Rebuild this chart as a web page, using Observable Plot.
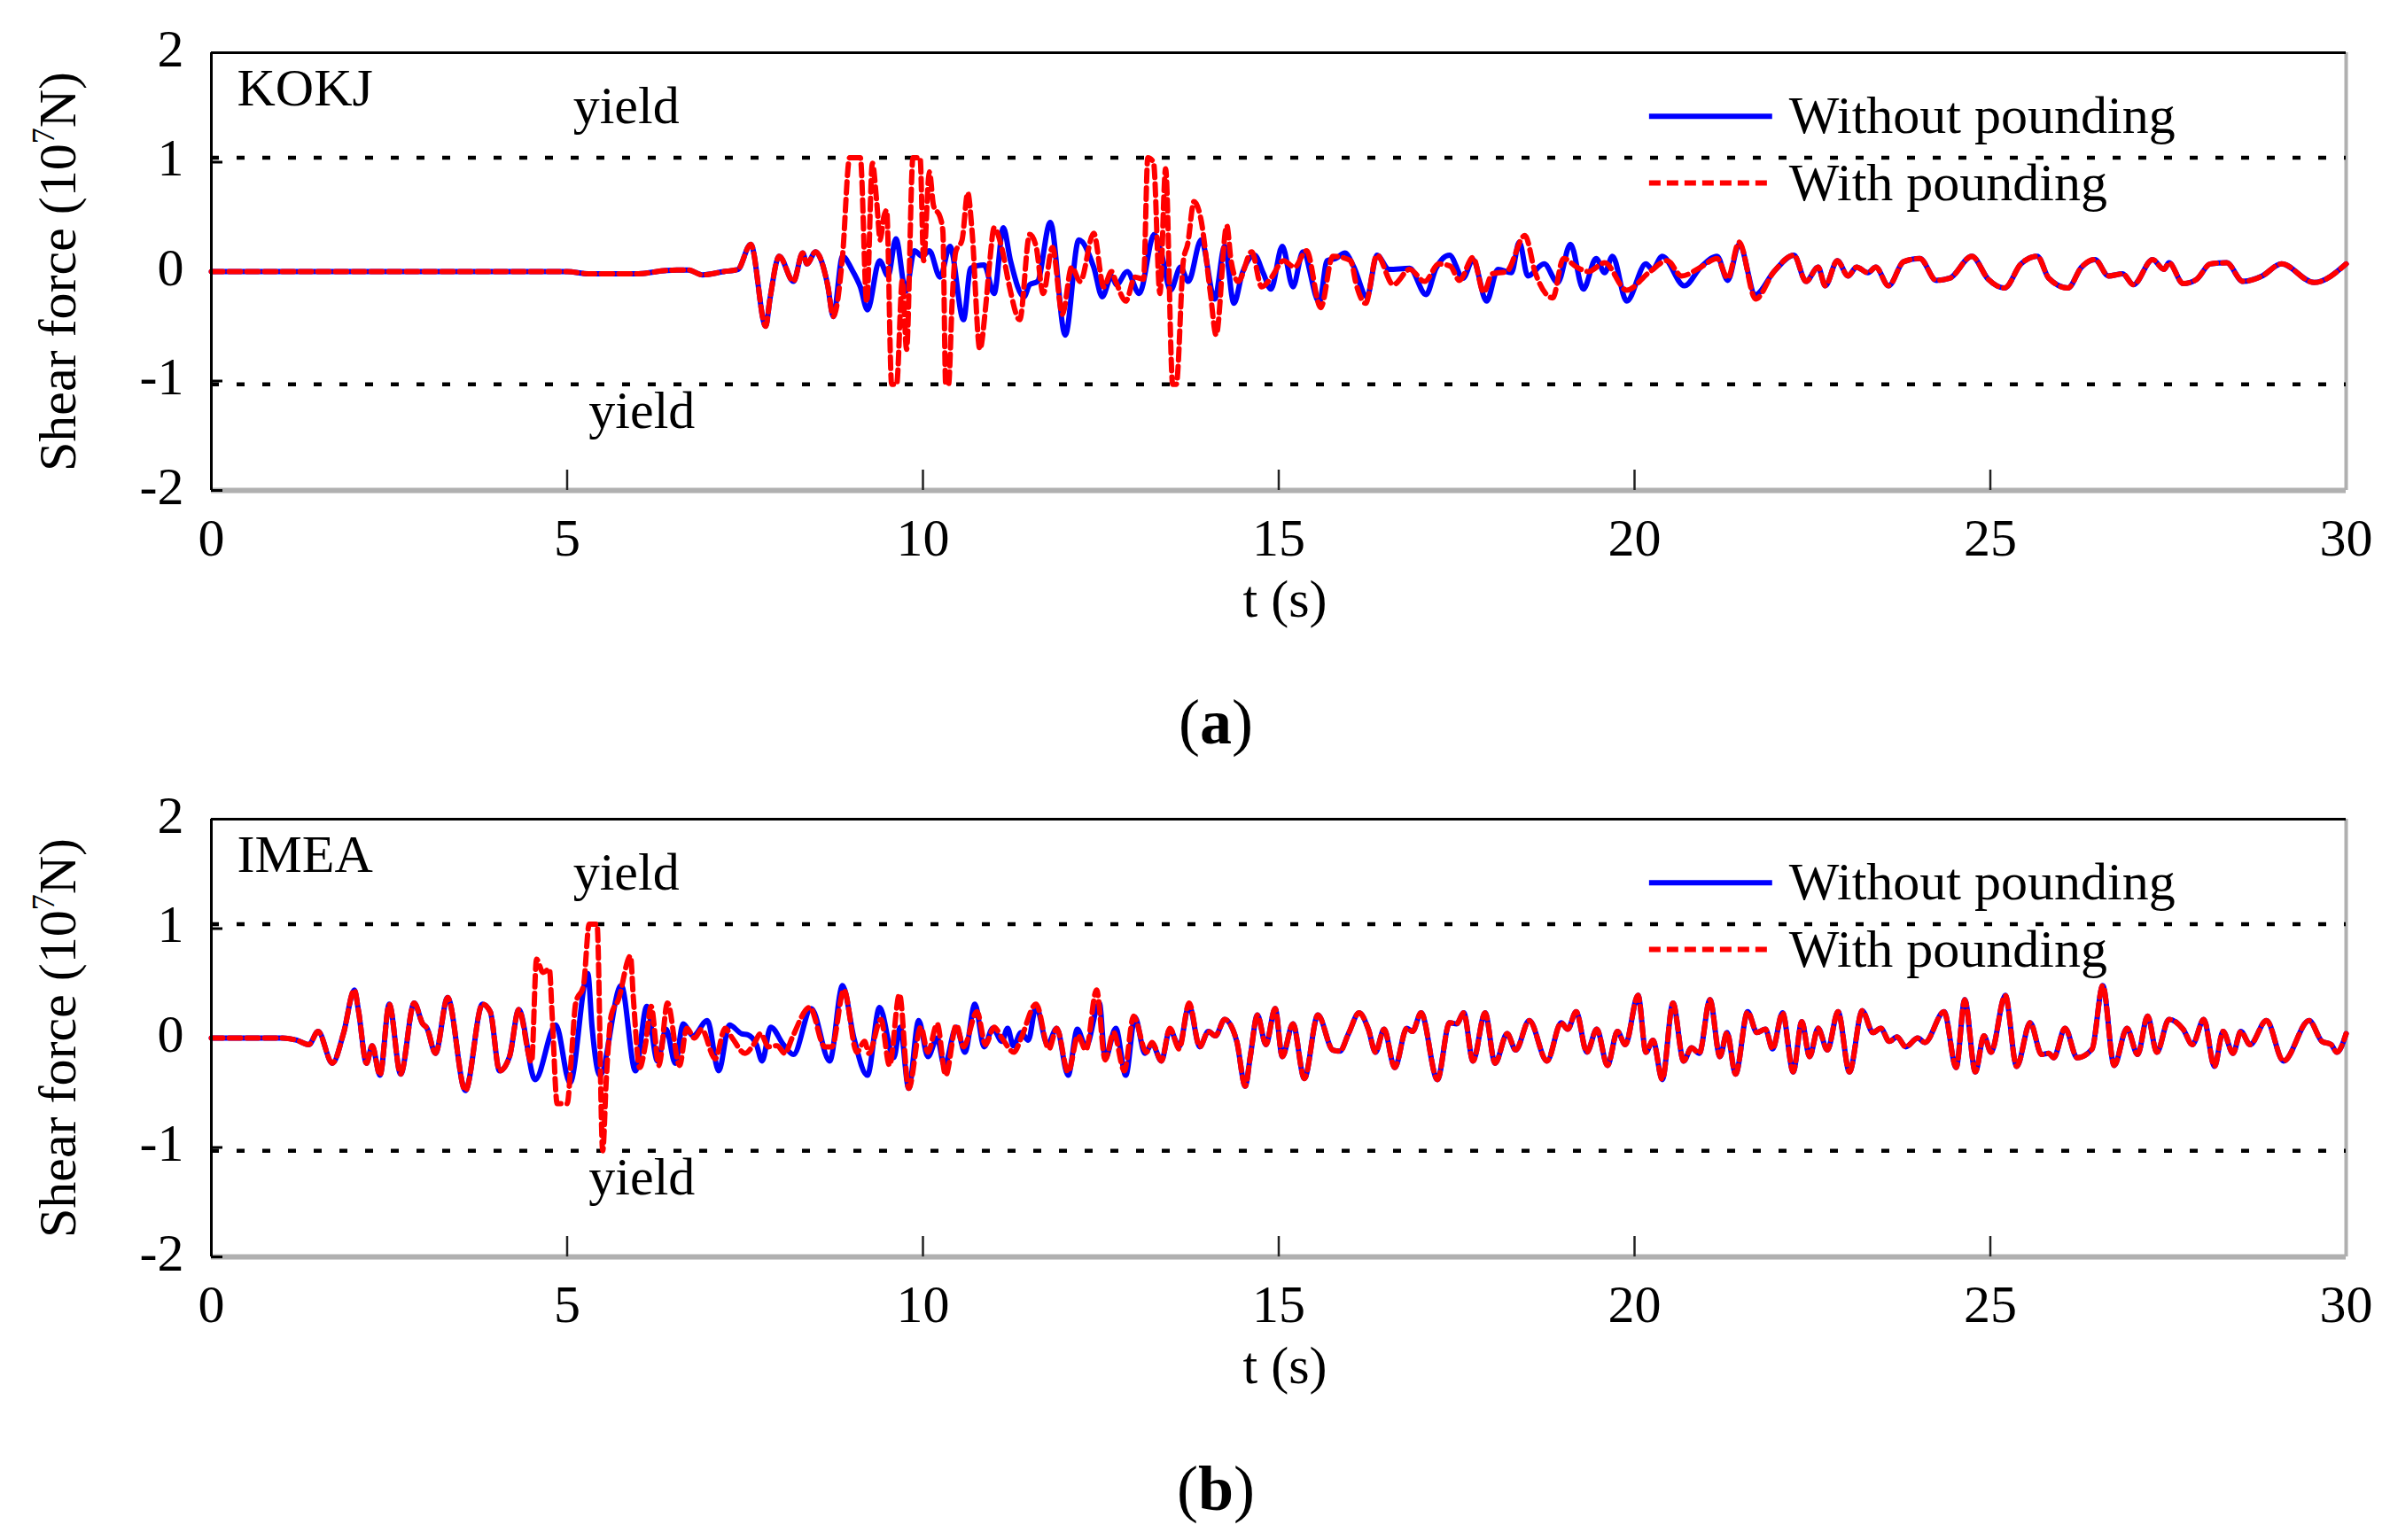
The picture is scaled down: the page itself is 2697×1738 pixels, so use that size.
<!DOCTYPE html>
<html>
<head>
<meta charset="utf-8">
<script src="https://cdn.jsdelivr.net/npm/d3@7"></script>
<script src="https://cdn.jsdelivr.net/npm/@observablehq/plot@0.6"></script>
<style>
html, body { margin: 0; padding: 0; background: #fff; }
body { width: 2697px; font-family: "Liberation Serif", "Times New Roman", serif; color: #000; }
.cap { height: 125px; box-sizing: border-box; padding-top: 39px; padding-left: 47px; line-height: 72px; font-size: 72px; text-align: center; }
svg { display: block; }
</style>
</head>
<body>
<div id="root"></div>
<script>
// ---------- axes ----------
const xTicks = [0, 5, 10, 15, 20, 25, 30];
const yTicks = [-2, -1, 0, 1, 2];
const yieldLevels = [1.04, -1.03];
const yLabelText = "Shear force (10^7N)";
const xLabelText = "t (s)";
const seriesNames = ["Without pounding", "With pounding"];
const panelCodes = ["KOKJ", "IMEA"];
const panelCaptions = ["a", "b"];

// ---------- (a) KOKJ : [t (s), shear force (10^7 N)] ----------
const kokjQuiet = [[0,0],[5.0,0],[5.3,-0.02],[6.0,-0.02],[6.4,0.01],[6.7,0.015],[6.9,-0.03],[7.2,0.0],[7.4,0.02],[7.58,0.25],[7.79,-0.50],[7.85,-0.25],[7.98,0.14],[8.18,-0.09],[8.31,0.17],[8.37,0.07],[8.49,0.18],[8.66,-0.12],[8.74,-0.41],[8.87,0.14]];
const kokjWithoutMid = [[9.0,0.02],[9.12,-0.14],[9.22,-0.35],[9.39,0.10],[9.51,-0.04],[9.62,0.30],[9.76,-0.18],[9.88,0.19],[9.99,0.14],[10.09,0.19],[10.24,-0.05],[10.38,0.23],[10.57,-0.44],[10.67,0.03],[10.86,0.06],[11.0,-0.2],[11.13,0.40],[11.23,0.10],[11.42,-0.23],[11.5,-0.12],[11.61,-0.09],[11.79,0.45],[12.0,-0.58],[12.19,0.29],[12.4,0.04],[12.52,-0.23],[12.65,-0.04],[12.72,-0.12],[12.87,0.0],[13.04,-0.2],[13.25,0.34],[13.35,0.17],[13.48,-0.17],[13.62,0.04],[13.73,-0.09],[13.91,0.29],[14.10,-0.25],[14.24,0.23],[14.37,-0.29],[14.49,-0.01],[14.66,0.15],[14.78,-0.01],[14.89,-0.16],[15.05,0.23],[15.2,-0.14],[15.34,0.18],[15.57,-0.28],[15.68,0.10],[15.8,0.12],[15.93,0.17],[16.05,0.05],[16.24,-0.23],[16.38,0.15],[16.55,0.02],[16.84,0.03],[17.07,-0.21],[17.21,0.03],[17.4,0.15],[17.59,-0.06],[17.73,0.11],[17.92,-0.27],[18.08,0.02],[18.27,-0.01],[18.38,0.27],[18.5,-0.04],[18.73,0.07],[18.92,-0.10],[19.1,0.25],[19.28,-0.16],[19.46,0.12],[19.58,-0.01],[19.69,0.14],[19.89,-0.27],[20.16,0.07],[20.25,0.02],[20.39,0.14],[20.7,-0.13],[20.93,0.04],[21.16,0.14],[21.31,-0.08],[21.47,0.25],[21.7,-0.21]];
const kokjWithMid = [[8.97,1.04],[9.12,1.04],[9.21,-0.28],[9.29,0.99],[9.35,0.64],[9.4,0.29],[9.45,0.5],[9.49,0.56],[9.56,-1.03],[9.63,-1.03],[9.71,-0.08],[9.77,-0.71],[9.86,1.04],[9.96,1.04],[10.01,0.1],[10.09,0.91],[10.15,0.6],[10.24,0.5],[10.28,0.37],[10.32,-1.03],[10.36,-1.03],[10.41,-0.28],[10.46,0.18],[10.55,0.29],[10.63,0.72],[10.69,0.37],[10.8,-0.71],[10.88,-0.33],[10.94,0.1],[11.0,0.4],[11.11,0.21],[11.21,-0.12],[11.36,-0.44],[11.5,0.34],[11.59,0.23],[11.69,-0.2],[11.82,0.22],[11.96,-0.39],[12.09,0.04],[12.21,-0.09],[12.4,0.35],[12.54,-0.14],[12.65,0.0],[12.71,-0.09],[12.85,-0.27],[12.98,-0.05],[13.1,-0.07],[13.16,1.04],[13.24,1.0],[13.33,-0.2],[13.41,0.94],[13.51,-1.03],[13.56,-1.03],[13.66,0.1],[13.72,0.25],[13.81,0.64],[13.9,0.5],[14.04,-0.2],[14.12,-0.58],[14.27,0.42],[14.33,0.1],[14.43,-0.09],[14.62,0.18],[14.76,-0.14],[14.89,-0.06],[15.07,0.1],[15.22,0.04],[15.39,0.19],[15.59,-0.33],[15.76,0.14],[16.01,0.1],[16.09,-0.12],[16.22,-0.29],[16.38,0.15],[16.61,-0.12],[16.84,0.02],[17.05,-0.09],[17.25,0.07],[17.41,0.05],[17.54,-0.08],[17.73,0.13],[17.88,-0.19],[18.0,-0.02],[18.2,0.0],[18.46,0.33],[18.6,0.0],[18.85,-0.24],[19.0,0.12],[19.19,0.04],[19.35,0.0],[19.58,0.08],[19.89,-0.17],[20.2,-0.01],[20.46,0.1],[20.66,-0.04],[20.93,0.04],[21.16,0.12],[21.31,-0.06],[21.47,0.27],[21.7,-0.25]];
const kokjTail = [[21.96,0.0],[22.24,0.15],[22.41,-0.09],[22.58,0.04],[22.68,-0.13],[22.85,0.10],[23.0,-0.04],[23.12,0.04],[23.28,-0.01],[23.39,0.04],[23.57,-0.13],[23.78,0.09],[24.01,0.12],[24.24,-0.08],[24.43,-0.06],[24.74,0.14],[24.97,-0.07],[25.2,-0.15],[25.43,0.07],[25.66,0.14],[25.82,-0.06],[26.09,-0.15],[26.28,0.04],[26.47,0.11],[26.66,-0.04],[26.86,-0.02],[27.01,-0.12],[27.28,0.11],[27.44,0.02],[27.51,0.08],[27.71,-0.11],[27.9,-0.07],[28.09,0.07],[28.32,0.08],[28.55,-0.09],[28.82,-0.04],[29.09,0.07],[29.55,-0.10],[30.0,0.07]];

// ---------- (b) IMEA : [t (s), shear force (10^7 N)] ----------
const imeaQuiet = [[0,0],[1.0,0],[1.2,-0.02],[1.37,-0.06],[1.5,0.06],[1.7,-0.23],[1.86,0.05],[2.01,0.44],[2.07,0.24],[2.18,-0.23],[2.26,-0.07],[2.37,-0.34],[2.5,0.31],[2.66,-0.33],[2.85,0.32],[2.97,0.13],[3.03,0.09],[3.15,-0.14],[3.32,0.37],[3.57,-0.48],[3.81,0.31],[3.92,0.24],[4.05,-0.3],[4.19,-0.17],[4.32,0.26]];
const imeaWithoutMid = [[4.55,-0.38],[4.84,0.12],[5.04,-0.41],[5.29,0.59],[5.35,0.10],[5.46,-0.34],[5.76,0.48],[5.96,-0.3],[6.12,0.29],[6.27,-0.21],[6.39,0.08],[6.52,-0.23],[6.63,0.13],[6.77,0.02],[6.97,0.16],[7.13,-0.3],[7.28,0.12],[7.45,0.04],[7.54,0.03],[7.66,-0.06],[7.74,-0.21],[7.86,0.10],[8.04,-0.06],[8.18,-0.15],[8.43,0.27],[8.69,-0.21],[8.87,0.48],[9.03,0.0],[9.22,-0.34],[9.39,0.28],[9.59,-0.18],[9.68,0.1],[9.8,-0.46],[9.94,0.16],[10.07,-0.17],[10.2,0.0],[10.3,-0.25],[10.47,0.10],[10.59,-0.13],[10.73,0.31],[10.86,-0.08],[10.98,0.09],[11.11,-0.03],[11.19,0.09],[11.27,-0.07],[11.38,0.05],[11.48,-0.02],[11.59,0.29],[11.75,-0.06],[11.88,0.09],[12.04,-0.34],[12.17,0.08],[12.29,-0.08],[12.48,0.32],[12.56,-0.19],[12.71,0.09],[12.85,-0.34],[12.98,0.19],[13.12,-0.14],[13.22,-0.05],[13.35,-0.21],[13.47,0.08],[13.6,-0.08],[13.74,0.30]];
const imeaWithMid = [[4.5,-0.22],[4.57,0.72],[4.66,0.6],[4.75,0.63],[4.79,0.2],[4.86,-0.6],[5.0,-0.6],[5.06,-0.17],[5.12,0.32],[5.23,0.48],[5.31,1.04],[5.42,1.04],[5.5,-1.03],[5.55,-0.38],[5.62,0.21],[5.72,0.35],[5.89,0.75],[5.93,0.37],[6.02,-0.27],[6.1,-0.06],[6.18,0.29],[6.29,-0.25],[6.41,0.32],[6.58,-0.25],[6.68,0.09],[6.79,0.0],[6.89,0.08],[7.08,-0.19],[7.22,0.09],[7.32,0.0],[7.5,-0.14],[7.62,-0.06],[7.72,0.04],[7.83,-0.08],[7.95,-0.07],[8.06,-0.14],[8.16,0.0],[8.41,0.28],[8.62,-0.08],[8.72,-0.08],[8.89,0.44],[9.07,-0.13],[9.18,-0.03],[9.24,-0.14],[9.41,0.17],[9.53,-0.25],[9.67,0.40],[9.8,-0.46],[9.97,0.10],[10.07,-0.13],[10.2,0.13],[10.32,-0.34],[10.47,0.12],[10.57,-0.08],[10.76,0.24],[10.88,-0.06],[11.0,0.10],[11.11,0.0],[11.28,-0.13],[11.38,0.0],[11.59,0.31],[11.77,-0.1],[11.88,0.09],[12.04,-0.31],[12.18,0.02],[12.29,-0.11],[12.44,0.44],[12.56,-0.2],[12.68,0.05],[12.83,-0.30],[12.96,0.2],[13.14,-0.13],[13.22,-0.04],[13.35,-0.21],[13.47,0.09],[13.6,-0.1],[13.74,0.32]];
const imeaTail = [[13.89,-0.08],[14.01,0.06],[14.11,0.02],[14.24,0.17],[14.41,-0.03],[14.53,-0.44],[14.6,-0.17],[14.7,0.21],[14.82,-0.06],[14.95,0.27],[15.05,-0.17],[15.2,0.13],[15.36,-0.37],[15.55,0.21],[15.76,-0.11],[15.86,-0.12],[15.98,0.04],[16.13,0.23],[16.26,0.08],[16.36,-0.13],[16.48,0.08],[16.63,-0.27],[16.8,0.09],[16.88,0.06],[17.0,0.23],[17.23,-0.38],[17.4,0.14],[17.5,0.13],[17.6,0.23],[17.73,-0.21],[17.9,0.23],[18.04,-0.23],[18.21,0.04],[18.33,-0.11],[18.52,0.16],[18.77,-0.21],[18.97,0.14],[19.06,0.08],[19.18,0.24],[19.33,-0.13],[19.47,0.08],[19.62,-0.25],[19.76,0.06],[19.87,-0.06],[20.05,0.39],[20.16,-0.13],[20.26,-0.02],[20.39,-0.38],[20.54,0.32],[20.69,-0.21],[20.8,-0.09],[20.91,-0.14],[21.06,0.35],[21.2,-0.17],[21.3,0.05],[21.42,-0.33],[21.59,0.24],[21.72,0.05],[21.84,0.08],[21.94,-0.10],[22.08,0.23],[22.23,-0.31],[22.35,0.15],[22.46,-0.17],[22.58,0.09],[22.71,-0.11],[22.86,0.24],[23.02,-0.31],[23.2,0.25],[23.35,0.05],[23.46,0.09],[23.58,-0.03],[23.69,0.01],[23.81,-0.08],[23.98,0.0],[24.08,-0.04],[24.35,0.24],[24.52,-0.27],[24.64,0.35],[24.79,-0.31],[24.91,0.02],[25.01,-0.13],[25.21,0.39],[25.37,-0.26],[25.56,0.14],[25.72,-0.15],[25.82,-0.14],[25.89,-0.18],[26.05,0.09],[26.22,-0.18],[26.43,-0.10],[26.58,0.48],[26.74,-0.25],[26.92,0.09],[27.07,-0.15],[27.21,0.20],[27.34,-0.13],[27.51,0.17],[27.71,0.08],[27.84,-0.06],[28.0,0.17],[28.15,-0.26],[28.27,0.06],[28.41,-0.14],[28.52,0.06],[28.65,-0.06],[28.88,0.16],[29.12,-0.21],[29.48,0.16],[29.66,-0.03],[29.79,-0.06],[29.87,-0.13],[30.0,0.04]];

// ---------- layout ----------
const W = 2697, H = 740, mT = 59, mB = 187, mL = 238, mR = 50;
const innerW = W - mL - mR, innerH = H - mT - mB;
const xDomain = [xTicks[0], xTicks[xTicks.length - 1]];
const yDomain = [yTicks[0], yTicks[yTicks.length - 1]];
const FONT = "'Liberation Serif', 'Times New Roman', serif";

function panel(code, without, withP) {
  // annotation anchors (data units)
  const yieldLabels = [{t: 5.83, v: 1.51, s: "yield"}, {t: 6.05, v: -1.275, s: "yield"}];
  const legX1 = 20.21, legX2 = 21.94, legTX = 22.17, legY = [1.42, 0.81];
  const fmt = d => String(d);
  const xy = {x: d => d[0], y: d => d[1]};
  const svg = Plot.plot({
    width: W, height: H,
    marginTop: mT, marginBottom: mB, marginLeft: mL, marginRight: mR,
    style: {fontFamily: FONT, fontSize: "60px", color: "#000", background: "#fff"},
    x: {domain: xDomain},
    y: {domain: yDomain},
    marks: [
      Plot.ruleY([yDomain[0]], {stroke: "#b0b0b0", strokeWidth: 6}),
      Plot.ruleX([xDomain[1]], {stroke: "#b0b0b0", strokeWidth: 4}),
      Plot.ruleX(xTicks.slice(1, -1), {y1: yDomain[1], y2: yDomain[0], insetTop: innerH - 23, stroke: "#222", strokeWidth: 2.5}),
      Plot.ruleY(yTicks, {x1: xDomain[0], x2: xDomain[1], insetRight: innerW - 13, stroke: "#000", strokeWidth: 3}),
      Plot.ruleY(yieldLevels, {stroke: "#000", strokeWidth: 4.5, strokeDasharray: "9 20"}),
      Plot.line(without, {...xy, stroke: "#0000ff", strokeWidth: 6, curve: "monotone-x"}),
      Plot.line(withP, {...xy, stroke: "#ff0000", strokeWidth: 6, strokeDasharray: "13 7", curve: "monotone-x"}),
      Plot.ruleY([yDomain[1]], {stroke: "#000", strokeWidth: 3}),
      Plot.ruleX([xDomain[0]], {stroke: "#000", strokeWidth: 3}),
      Plot.axisX({ticks: xTicks, tickSize: 0, tickPadding: 31, tickFormat: fmt, label: null}),
      Plot.axisY({ticks: yTicks, tickSize: 0, tickPadding: 31, tickFormat: fmt, label: null, dy: -4}),
      Plot.text([code], {frameAnchor: "top-left", dx: 29, dy: 40, textAnchor: "start", lineAnchor: "middle"}),
      Plot.text(yieldLabels, {x: "t", y: "v", text: "s", lineAnchor: "middle"}),
      Plot.ruleY([legY[0]], {x1: legX1, x2: legX2, stroke: "#0000ff", strokeWidth: 6}),
      Plot.ruleY([legY[1]], {x1: legX1, x2: legX2, stroke: "#ff0000", strokeWidth: 6, strokeDasharray: "13 7"}),
      Plot.text([{v: legY[0], s: seriesNames[0]}, {v: legY[1], s: seriesNames[1]}], {x: () => legTX, y: "v", text: "s", textAnchor: "start", lineAnchor: "middle"}),
      Plot.text([xLabelText], {frameAnchor: "bottom", dx: 7, dy: 123, textAnchor: "middle", lineAnchor: "middle"}),
      Plot.text([yLabelText], {frameAnchor: "left", dx: -173, rotate: -90, textAnchor: "middle", lineAnchor: "middle"})
    ]
  });
  // superscript exponent in the y label
  d3.select(svg).selectAll("text").filter(function () { return this.textContent === yLabelText; }).each(function () {
    const t = d3.select(this);
    t.text(null);
    t.append("tspan").text("Shear force (10");
    t.append("tspan").attr("font-size", "36px").attr("dy", "-24").text("7");
    t.append("tspan").attr("dy", "24").text("N)");
  });
  return svg;
}

const root = document.getElementById("root");
const panels = [
  [kokjQuiet.concat(kokjWithoutMid, kokjTail), kokjQuiet.concat(kokjWithMid, kokjTail)],
  [imeaQuiet.concat(imeaWithoutMid, imeaTail), imeaQuiet.concat(imeaWithMid, imeaTail)]
];
panels.forEach(([wo, wi], i) => {
  root.appendChild(panel(panelCodes[i], wo, wi));
  const cap = document.createElement("div");
  cap.className = "cap";
  cap.innerHTML = "(<b>" + panelCaptions[i] + "</b>)";
  root.appendChild(cap);
});
</script>
</body>
</html>
